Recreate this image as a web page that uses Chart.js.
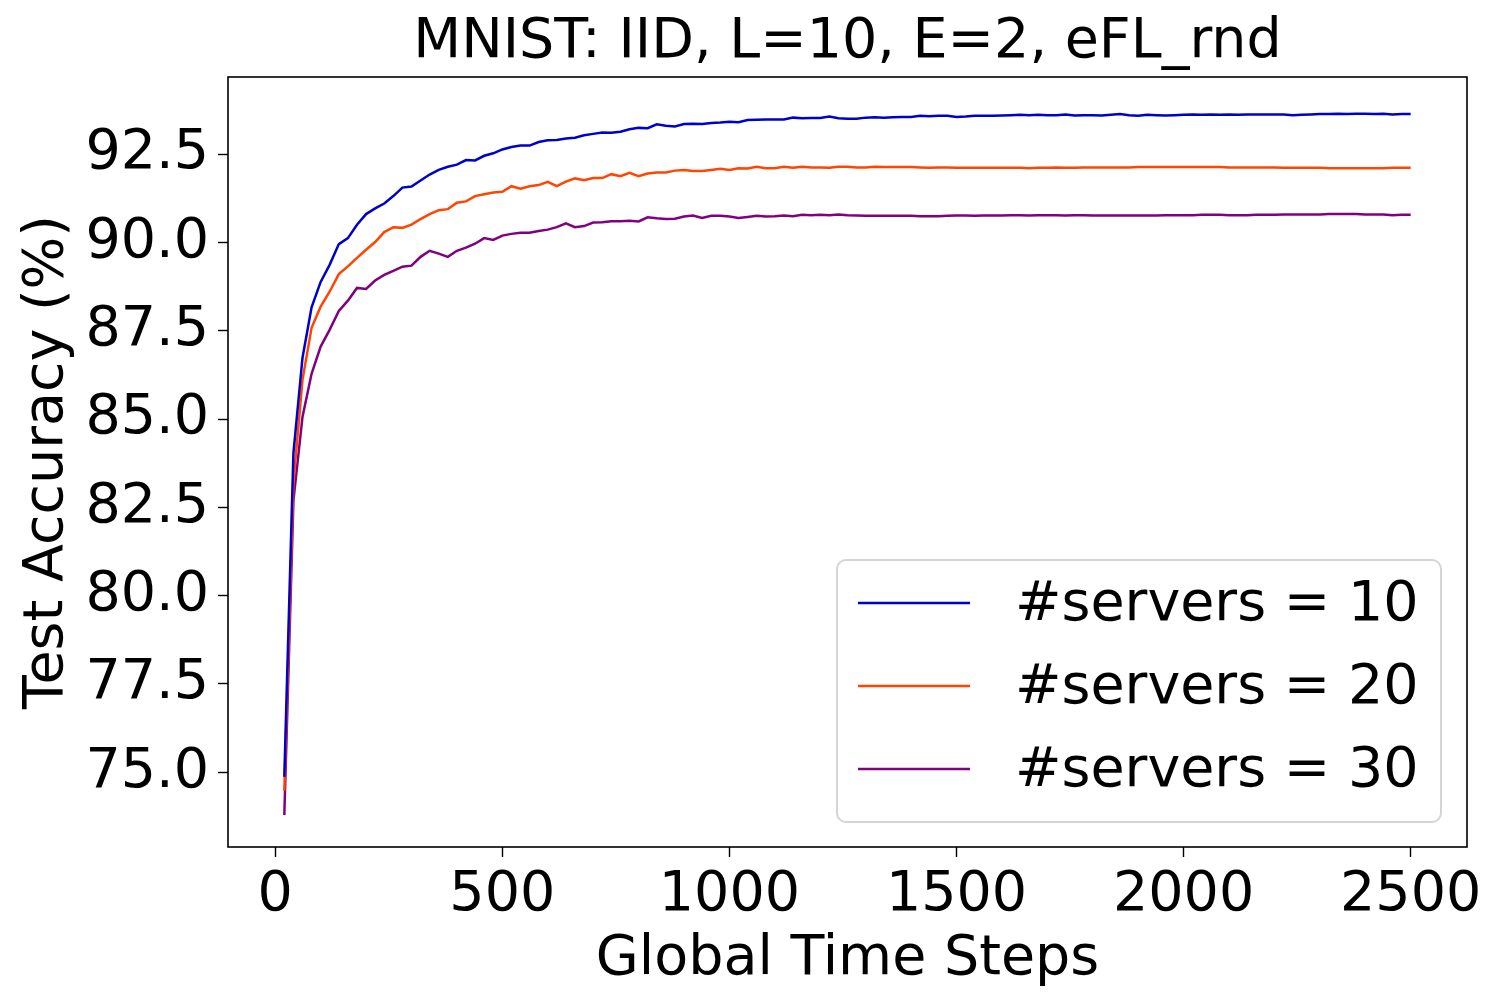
<!DOCTYPE html>
<html>
<head>
<meta charset="utf-8">
<script src="https://cdn.jsdelivr.net/npm/chart.js@4.4.1/dist/chart.umd.min.js"></script>
<style>
  html, body { margin: 0; padding: 0; background: #fff; }
  #wrap { width: 1502px; height: 1007px; }
</style>
</head>
<body>
<div id="wrap"><canvas id="accChart" width="1502" height="1007"></canvas></div>
<script>
// global time steps (every 20)
const steps = [
  20, 40, 60, 80, 100, 120, 140, 160, 180, 200,
  220, 240, 260, 280, 300, 320, 340, 360, 380, 400,
  420, 440, 460, 480, 500, 520, 540, 560, 580, 600,
  620, 640, 660, 680, 700, 720, 740, 760, 780, 800,
  820, 840, 860, 880, 900, 920, 940, 960, 980, 1000,
  1020, 1040, 1060, 1080, 1100, 1120, 1140, 1160, 1180, 1200,
  1220, 1240, 1260, 1280, 1300, 1320, 1340, 1360, 1380, 1400,
  1420, 1440, 1460, 1480, 1500, 1520, 1540, 1560, 1580, 1600,
  1620, 1640, 1660, 1680, 1700, 1720, 1740, 1760, 1780, 1800,
  1820, 1840, 1860, 1880, 1900, 1920, 1940, 1960, 1980, 2000,
  2020, 2040, 2060, 2080, 2100, 2120, 2140, 2160, 2180, 2200,
  2220, 2240, 2260, 2280, 2300, 2320, 2340, 2360, 2380, 2400,
  2420, 2440, 2460, 2480, 2500
];

const servers10 = [
  74.87, 84.03, 86.73, 88.16, 88.88, 89.37, 89.95, 90.12, 90.50, 90.80,
  90.96, 91.10, 91.31, 91.55, 91.58, 91.75, 91.92, 92.05, 92.14, 92.20,
  92.33, 92.32, 92.45, 92.52, 92.63, 92.70, 92.74, 92.74, 92.84, 92.89,
  92.90, 92.94, 92.96, 93.03, 93.07, 93.11, 93.10, 93.13, 93.20, 93.24,
  93.23, 93.34, 93.30, 93.28, 93.35, 93.36, 93.35, 93.38, 93.39, 93.41,
  93.40, 93.46, 93.47, 93.48, 93.48, 93.48, 93.53, 93.51, 93.52, 93.52,
  93.56, 93.51, 93.50, 93.50, 93.53, 93.54, 93.53, 93.54, 93.55, 93.55,
  93.58, 93.57, 93.58, 93.58, 93.55, 93.56, 93.58, 93.58, 93.58, 93.59,
  93.60, 93.61, 93.60, 93.61, 93.60, 93.60, 93.62, 93.59, 93.60, 93.60,
  93.59, 93.61, 93.63, 93.60, 93.58, 93.61, 93.60, 93.59, 93.60, 93.61,
  93.62, 93.61, 93.62, 93.61, 93.62, 93.61, 93.62, 93.62, 93.62, 93.62,
  93.62, 93.60, 93.61, 93.62, 93.63, 93.63, 93.64, 93.63, 93.64, 93.64,
  93.63, 93.64, 93.62, 93.63, 93.63
];

const servers20 = [
  74.48, 83.20, 86.10, 87.58, 88.18, 88.61, 89.10, 89.32, 89.56, 89.79,
  90.01, 90.29, 90.43, 90.41, 90.50, 90.66, 90.80, 90.91, 90.94, 91.12,
  91.16, 91.31, 91.36, 91.41, 91.43, 91.59, 91.52, 91.59, 91.62, 91.71,
  91.59, 91.72, 91.81, 91.76, 91.82, 91.82, 91.93, 91.87, 91.97, 91.87,
  91.95, 91.98, 91.98, 92.03, 92.05, 92.02, 92.02, 92.05, 92.08, 92.05,
  92.10, 92.09, 92.14, 92.10, 92.10, 92.14, 92.11, 92.14, 92.12, 92.12,
  92.11, 92.14, 92.14, 92.12, 92.12, 92.14, 92.13, 92.13, 92.13, 92.13,
  92.12, 92.11, 92.12, 92.12, 92.11, 92.11, 92.11, 92.11, 92.11, 92.11,
  92.11, 92.11, 92.10, 92.11, 92.11, 92.12, 92.11, 92.11, 92.12, 92.12,
  92.12, 92.12, 92.12, 92.12, 92.13, 92.13, 92.13, 92.13, 92.13, 92.13,
  92.13, 92.13, 92.13, 92.13, 92.12, 92.12, 92.12, 92.12, 92.12, 92.12,
  92.11, 92.11, 92.11, 92.11, 92.11, 92.10, 92.10, 92.10, 92.10, 92.10,
  92.10, 92.10, 92.11, 92.11, 92.11
];

const servers30 = [
  73.79, 82.68, 85.06, 86.28, 87.05, 87.53, 88.06, 88.35, 88.71, 88.68,
  88.92, 89.08, 89.19, 89.31, 89.34, 89.59, 89.76, 89.68, 89.59, 89.76,
  89.85, 89.96, 90.12, 90.07, 90.19, 90.24, 90.27, 90.27, 90.32, 90.36,
  90.43, 90.54, 90.43, 90.46, 90.56, 90.57, 90.60, 90.60, 90.61, 90.59,
  90.71, 90.68, 90.66, 90.67, 90.73, 90.76, 90.69, 90.75, 90.75, 90.73,
  90.69, 90.72, 90.75, 90.73, 90.74, 90.76, 90.74, 90.78, 90.77, 90.78,
  90.77, 90.79, 90.77, 90.76, 90.75, 90.75, 90.75, 90.75, 90.75, 90.75,
  90.74, 90.74, 90.74, 90.75, 90.76, 90.76, 90.75, 90.76, 90.76, 90.76,
  90.77, 90.77, 90.76, 90.77, 90.77, 90.77, 90.76, 90.77, 90.77, 90.76,
  90.76, 90.76, 90.76, 90.76, 90.76, 90.76, 90.76, 90.77, 90.77, 90.77,
  90.77, 90.78, 90.78, 90.78, 90.77, 90.77, 90.77, 90.78, 90.78, 90.78,
  90.79, 90.79, 90.79, 90.79, 90.79, 90.80, 90.80, 90.80, 90.80, 90.79,
  90.79, 90.79, 90.77, 90.78, 90.78
];

const seriesLabels = ['#servers = 10', '#servers = 20', '#servers = 30'];
const seriesColors = ['#0000cd', '#ff4500', '#800080'];
const xTicks = [0, 500, 1000, 1500, 2000, 2500];
const yTicks = [75.0, 77.5, 80.0, 82.5, 85.0, 87.5, 90.0, 92.5];

const FONT = 'DejaVu Sans';
const FS = 55.5;
Chart.defaults.font.family = FONT;
Chart.defaults.color = '#000';

function toPoints(vals) {
  return steps.map((s, i) => ({ x: s, y: vals[i] }));
}

// matplotlib style box around the axes
const frame = {
  id: 'frame',
  afterDatasetsDraw(chart) {
    const { ctx, chartArea: a } = chart;
    ctx.save();
    ctx.strokeStyle = '#000';
    ctx.lineWidth = 1.6;
    ctx.strokeRect(a.left, a.top, a.right - a.left, a.bottom - a.top);
    ctx.restore();
  }
};

// legend drawn inside the plot, lower right
const boxLegend = {
  id: 'boxLegend',
  afterDraw(chart) {
    const ctx = chart.ctx;
    const x0 = 837, y0 = 560, w = 604, h = 262, r = 9;
    ctx.save();
    ctx.beginPath();
    ctx.roundRect(x0, y0, w, h, r);
    ctx.fillStyle = 'rgba(255,255,255,0.8)';
    ctx.fill();
    ctx.strokeStyle = '#d5d5d5';
    ctx.lineWidth = 2;
    ctx.stroke();
    ctx.font = FS + 'px "' + FONT + '"';
    ctx.textBaseline = 'middle';
    ctx.fillStyle = '#000';
    chart.data.datasets.forEach((ds, i) => {
      const y = 603 + i * 83;
      ctx.beginPath();
      ctx.moveTo(858, y);
      ctx.lineTo(970, y);
      ctx.strokeStyle = ds.borderColor;
      ctx.lineWidth = 2.5;
      ctx.stroke();
      ctx.fillText(ds.label, 1015, y + 3);
    });
    ctx.restore();
  }
};

new Chart(document.getElementById('accChart'), {
  type: 'line',
  data: {
    datasets: [servers10, servers20, servers30].map((vals, i) => ({
      label: seriesLabels[i],
      data: toPoints(vals),
      borderColor: seriesColors[i],
      backgroundColor: seriesColors[i],
      borderWidth: 2.5,
      pointRadius: 0,
      tension: 0,
      fill: false
    }))
  },
  options: {
    responsive: false,
    animation: false,
    devicePixelRatio: 1,
    layout: { padding: { left: 0, right: 35, top: 0, bottom: 0 } },
    plugins: {
      legend: { display: false },
      tooltip: { enabled: false },
      title: {
        display: true,
        text: 'MNIST: IID, L=10, E=2, eFL_rnd',
        fullSize: false,
        color: '#000',
        font: { size: FS, weight: 'normal', family: FONT },
        padding: { top: 9, bottom: 1.4 }
      }
    },
    scales: {
      x: {
        type: 'linear',
        min: -104,
        max: 2624,
        afterBuildTicks: (scale) => { scale.ticks = xTicks.map(v => ({ value: v })); },
        afterFit: (scale) => { scale.height = 160; },
        border: { display: false },
        grid: { drawOnChartArea: false, drawTicks: true, tickLength: 10, tickColor: '#000', tickWidth: 1.4 },
        ticks: { font: { size: FS }, padding: 5, maxRotation: 0, autoSkip: false, callback: (v) => String(v) },
        title: { display: true, text: 'Global Time Steps', font: { size: FS }, padding: { top: 0, bottom: 14 } }
      },
      y: {
        type: 'linear',
        min: 72.886,
        max: 94.68,
        afterBuildTicks: (scale) => { scale.ticks = yTicks.map(v => ({ value: v })); },
        afterFit: (scale) => { scale.width = 228; },
        border: { display: false },
        grid: { drawOnChartArea: false, drawTicks: true, tickLength: 10, tickColor: '#000', tickWidth: 1.4 },
        ticks: { font: { size: FS }, padding: 9, callback: (v) => Number(v).toFixed(1) },
        title: { display: true, text: 'Test Accuracy (%)', font: { size: FS }, padding: { top: 14, bottom: 0 } }
      }
    }
  },
  plugins: [frame, boxLegend]
});
</script>
</body>
</html>
